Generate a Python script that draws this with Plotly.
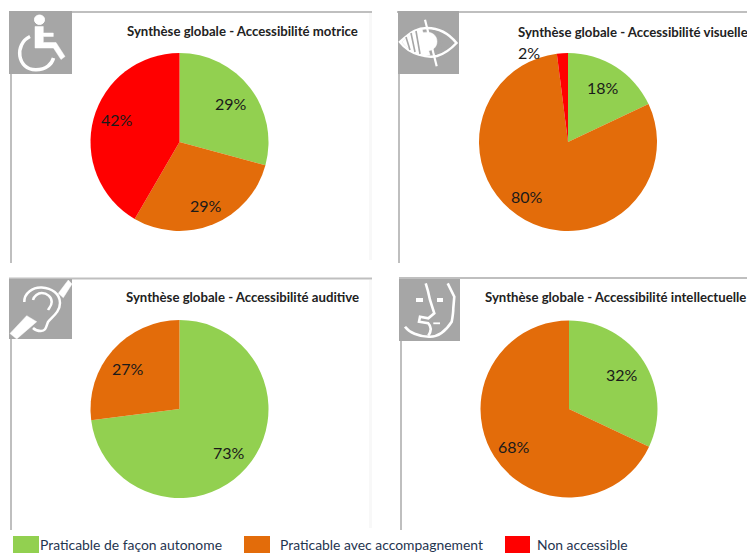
import plotly.graph_objects as go

W, H = 747, 553
categories = ["Praticable de façon autonome", "Praticable avec accompagnement", "Non accessible"]
colors = ["#92D050", "#E36C0A", "#FF0000"]
titles = ["Synthèse globale - Accessibilité motrice", "Synthèse globale - Accessibilité visuelle",
          "Synthèse globale - Accessibilité auditive", "Synthèse globale - Accessibilité intellectuelle"]
motrice = [29.2, 29.2, 41.6]
visuelle = [18, 80, 2]
auditive = [73, 27, 0]
intellectuelle = [32, 68, 0]
series = [motrice, visuelle, auditive, intellectuelle]

centers = [(179.5, 142, 89), (568, 142, 89), (179.5, 409, 89), (569, 409, 88.5)]
title_x = [125, 516, 124, 483]
title_y = [31, 32, 297, 297]
label_xy = [[(231, 104), (206, 205), (117, 120)],
            [(603, 87), (527, 196), (529, 52)],
            [(229, 452), (128, 368), None],
            [(622, 374), (514, 446), None]]
GREY = "#A6A6A6"; LINE = "#BFBFBF"

def X(x): return x / W
def Y(y): return 1 - y / H

fig = go.Figure()
for vals, (cx, cy, r) in zip(series, centers):
    fig.add_trace(go.Pie(
        labels=categories, values=vals, sort=False, direction="clockwise", rotation=0,
        textinfo="none",
        marker=dict(colors=colors, line=dict(width=0)),
        domain=dict(x=[X(cx - r), X(cx + r)], y=[Y(cy + r), Y(cy - r)]),
        showlegend=False, hoverinfo="label+percent"))

shapes = []
def rect(x0, y0, x1, y1, fill):
    shapes.append(dict(type="rect", xref="paper", yref="paper", x0=X(x0), x1=X(x1), y0=Y(y1), y1=Y(y0),
                       fillcolor=fill, line=dict(width=0), layer="below"))
def path(cmds, width=3, fill=None, color="white"):
    out = []
    for c in cmds:
        if isinstance(c, str):
            out.append(c)
        else:
            out.append(f"{X(c[0]):.5f},{Y(c[1]):.5f}")
    shapes.append(dict(type="path", xref="paper", yref="paper", path=" ".join(out),
                       line=dict(color=color, width=width), fillcolor=fill or "rgba(0,0,0,0)", layer="above"))

# panel frames
for x0, x1, y0, y1 in [(9, 372, 12, 263), (397, 747, 12, 263), (9, 372, 278.5, 530), (399, 747, 278, 530)]:
    rect(x0, y0 - 1, x1, y0 + 1, LINE)
    rect(x0 + 1, y0, x0 + 3, y1, LINE)
rect(369, 13, 372, 260, "#F8F8F8"); rect(369, 280, 372, 528, "#F8F8F8")

# icon squares
rect(9, 11, 72, 74, GREY); rect(398, 11, 459, 74, GREY)
rect(9, 279, 72, 339, GREY); rect(399, 279, 460, 341, GREY)

# wheelchair
path(["M", (34.5, 19.7), "C", (34.5, 13.5), (44.5, 13.5), (44.5, 19.7), "C", (44.5, 26), (34.5, 26), (34.5, 19.7), "Z"], 1, "white")
path(["M", (35, 26.5), "L", (43.3, 26.5), "L", (43.3, 33), "L", (53.3, 33), "L", (53.3, 36.5), "L", (43.3, 36.5),
      "L", (43.3, 42.5), "L", (56, 42.5), "L", (65, 56.5), "L", (61, 59.5), "L", (53.5, 48), "L", (35, 48), "Z"], 0.5, "white")
path(["M", (30, 36.5), "C", (14, 44), (17, 70), (36, 69.7), "C", (46, 69.7), (52, 64), (53.5, 58)], 3.5)

# eye
path(["M", (400, 42), "C", (412, 31), (418, 28), (427, 28), "C", (440, 28), (450, 35), (456.5, 43),
      "C", (450, 50), (444, 54), (437, 56), "C", (428, 58), (410, 55), (400, 42), "Z"], 2.5)
path(["M", (402, 42), "C", (410, 35), (414, 31), (422, 29), "L", (430, 55), "C", (420, 56), (410, 52), (402, 42), "Z"], 0.5, "white")
path(["M", (417, 41.5), "C", (417, 29), (437, 29), (437, 41.5), "C", (437, 54), (417, 54), (417, 41.5), "Z"], 0.5, "white")
for a, b in [((406, 37), (410, 50)), ((411, 33), (415, 52)), ((416, 31), (420, 54))]:
    path(["M", a, "L", b], 1.6, color=GREY)
path(["M", (425, 19.7), "L", (436.7, 66.3)], 2.2)
path(["M", (434, 31), "C", (444, 35), (444, 49), (435, 53)], 1.8, color=GREY)

# ear
path(["M", (10, 333.5), "L", (26.7, 315.7), "L", (36.7, 321.7), "L", (16.7, 339), "Z"], 0.5, "white")
path(["M", (58.3, 293.3), "L", (68.3, 280), "L", (72, 284), "L", (63.3, 297.7), "Z"], 0.5, "white")
path(["M", (24.3, 302), "C", (24, 293), (33, 287), (41.7, 287.5), "C", (52, 288), (60, 294), (60, 303),
      "C", (60, 312), (52, 317), (48, 322), "C", (46, 327), (46, 331), (41, 331), "C", (38, 331), (35, 330), (33, 328)], 2.5)
path(["M", (33, 300), "C", (34, 296), (38, 293), (41.7, 293), "C", (47, 293), (51.7, 297), (51.7, 302), "C", (51.7, 306), (49, 308), (48, 310)], 2.5)

# face
path(["M", (425.7, 283.3), "C", (428, 290), (429, 295), (430, 300), "L", (434.3, 313.3), "L", (428.3, 318.3),
      "L", (420, 316.7), "L", (419, 321.7), "L", (428.3, 323.3), "C", (431, 326), (432, 330), (428.3, 335.7)], 2.6)
path(["M", (405, 326.7), "C", (409, 332), (418, 337), (430, 336.7), "C", (439, 336.7), (447, 329), (451.7, 321.7),
      "C", (453, 315), (453.3, 312), (453.3, 308.3), "L", (454.3, 296.7), "L", (447.7, 283.3)], 2.6)
path(["M", (416, 300), "L", (423, 300)], 4)
path(["M", (437, 300), "L", (443, 300)], 4)
path(["M", (433.3, 323.3), "L", (440, 323.3)], 1.8)

# legend swatches
swatch_x = [(13, 39), (244, 270), (505, 530)]
legend_x = [39, 279, 536]
for (a, b), c in zip(swatch_x, colors):
    rect(a, 536, b, 553, c)

ann = []
for t, x, y in zip(titles, title_x, title_y):
    ann.append(dict(text=f"<b>{t}</b>", x=X(x), y=Y(y), xref="paper", yref="paper", xanchor="left", yanchor="middle",
                    showarrow=False, align="left", font=dict(family="Lato", size=13.2, color="#222222")))
for t, x in zip(categories, legend_x):
    ann.append(dict(text=t, x=X(x), y=Y(544.5), xref="paper", yref="paper", xanchor="left", yanchor="middle",
                    borderpad=0, showarrow=False, font=dict(family="Lato", size=13.9, color="#1F3550")))
for vals, pts in zip(series, label_xy):
    for v, p in zip(vals, pts):
        if p:
            ann.append(dict(text=f"{round(v)}%", x=X(p[0]), y=Y(p[1]), xref="paper", yref="paper",
                            xanchor="center", yanchor="middle",
                            showarrow=False, font=dict(family="Lato", size=16, color="#1a1a1a")))

fig.update_layout(width=W, height=H, margin=dict(l=0, r=0, t=0, b=0), paper_bgcolor="white",
                  shapes=shapes, annotations=ann, showlegend=False)
fig.write_html("out.html", post_script="document.body.style.margin='0';document.body.style.overflow='hidden';",
               config=dict(displayModeBar=False))
